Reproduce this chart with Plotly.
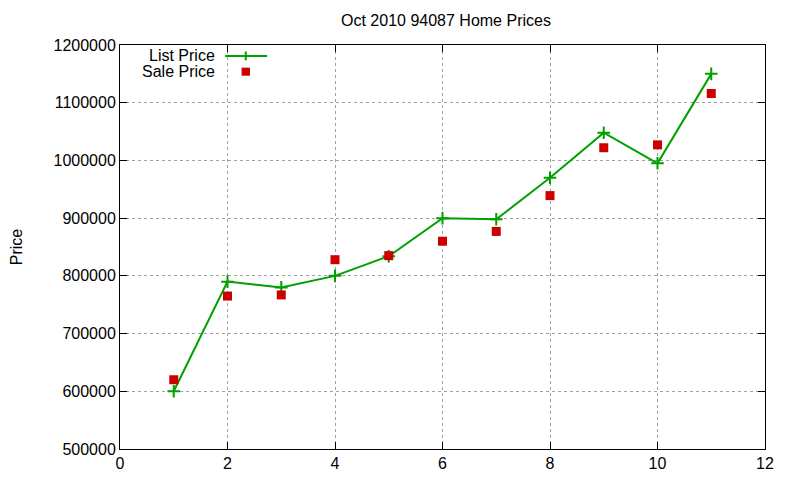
import plotly.graph_objects as go

months = [1, 2, 3, 4, 5, 6, 7, 8, 9, 10, 11]
list_price = [600000, 790000, 780000, 800000, 834000, 900000, 898000, 970000, 1048000, 995000, 1150000]
sale_price = [620000, 765000, 767000, 828000, 835000, 860000, 877000, 939000, 1022000, 1027000, 1116000]

green = "#00a000"
red = "#cc0000"
font = "Liberation Sans, Arial, sans-serif"

fig = go.Figure()
fig.add_trace(go.Scatter(x=months, y=list_price, name="List Price", mode="lines+markers",
                         line=dict(color=green, width=2),
                         marker=dict(symbol="cross-thin", size=9, line=dict(color=green, width=2))))
fig.add_trace(go.Scatter(x=months, y=sale_price, name="Sale Price", mode="markers",
                         marker=dict(symbol="square", size=9, color=red)))

axis = dict(showline=True, linecolor="black", linewidth=1, mirror="ticks",
            ticks="inside", ticklen=7, tickcolor="black", automargin=False,
            showgrid=True, gridcolor="#a0a0a0", griddash="dot", gridwidth=1,
            zeroline=False, tickfont=dict(size=16, color="black"))
fig.update_xaxes(range=[0, 12], dtick=2, **axis)
fig.update_yaxes(range=[500000, 1200000], dtick=100000, tickformat="d",
                 title=dict(text="Price", font=dict(size=16), standoff=41), **axis)

# legend drawn gnuplot-style: text first, then the key sample
fig.add_annotation(xref="paper", yref="paper", x=0.150, y=0.973, xanchor="right", yanchor="middle",
                   text="List Price", showarrow=False, height=15, font=dict(size=16, color="black"))
fig.add_annotation(xref="paper", yref="paper", x=0.150, y=0.934, xanchor="right", yanchor="middle",
                   text="Sale Price", showarrow=False, height=15, font=dict(size=16, color="black"))
fig.add_shape(type="line", xref="paper", yref="paper", x0=0.163, x1=0.228, y0=0.973, y1=0.973,
              line=dict(color=green, width=2))
fig.add_shape(type="line", xref="paper", yref="paper", x0=0.195, x1=0.195, y0=0.962, y1=0.984,
              line=dict(color=green, width=2))
fig.add_shape(type="rect", xref="paper", yref="paper", x0=0.1885, x1=0.2015, y0=0.924, y1=0.944,
              line=dict(width=0), fillcolor=red)

fig.update_layout(
    width=792, height=472,
    margin=dict(l=112, r=35, t=37, b=31),
    title=dict(text="Oct 2010 94087 Home Prices", x=0.553, xanchor="center", y=0.973, yanchor="middle",
               font=dict(size=16, color="black")),
    font=dict(family=font, color="black", size=16),
    showlegend=False,
    plot_bgcolor="white", paper_bgcolor="white",
)

fig.write_html("out.html")
